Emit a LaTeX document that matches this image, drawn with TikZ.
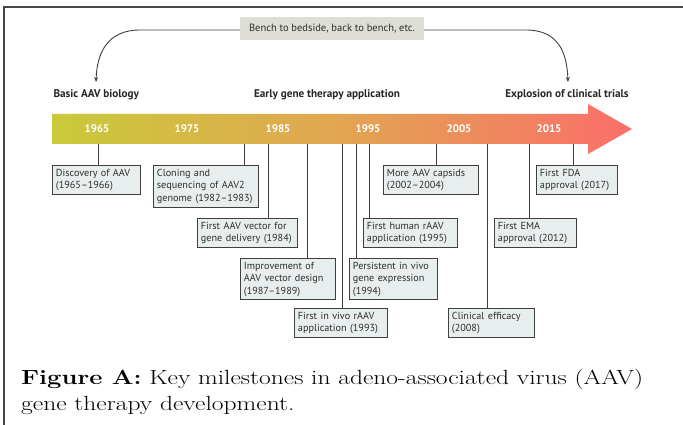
\documentclass[tikz,border=0pt]{standalone}
\usepackage{fontspec}
\usepackage{graphicx}
\setsansfont{PT Sans}
\usetikzlibrary{arrows.meta}

\definecolor{framegray}{HTML}{474747}
\definecolor{linegray}{HTML}{3F3F3F}
\definecolor{boxfill}{HTML}{E8EEEE}
\definecolor{benchfill}{HTML}{DEDED6}
\definecolor{txtgray}{HTML}{2E2E2E}
\definecolor{barstart}{HTML}{C9CA3A}
\definecolor{barmid}{HTML}{E2A552}
\definecolor{barend}{HTML}{FA6E6A}

\tikzset{
  msbox/.style={draw=linegray, fill=boxfill, line width=0.9pt, anchor=north west,
    align=left, inner xsep=3.5pt, inner ysep=3.5pt, text=txtgray,
    font=\sffamily\fontsize{10.2}{12.5}\selectfont},
  stem/.style={draw=linegray, line width=0.9pt},
  yearlbl/.style={text=white, font=\sffamily\bfseries\fontsize{11}{12}\selectfont},
  phase/.style={text=black!85, font=\sffamily\bfseries\fontsize{11.2}{12}\selectfont},
  loop/.style={draw=linegray, line width=0.9pt, -{Stealth[length=5pt,width=4pt]}},
  captext/.style={anchor=base west, inner sep=0pt, text=black,
    font=\fontsize{20.5}{27}\selectfont}
}

\begin{document}
\begin{tikzpicture}[x=1pt,y=-1pt]
\useasboundingbox (0,0) rectangle (683,425);
\fill[white] (0,0) rectangle (683,425);

% outer frame (top and left edges)
\draw[framegray, line width=2pt] (683,7) -- (3.5,7) -- (3.5,425);

% bench-to-bedside loop
\node[fill=benchfill, inner sep=0pt, minimum width=184pt, minimum height=23pt,
      text=txtgray, font=\sffamily\fontsize{10.5}{11}\selectfont]
      (bench) at (332,28.5) {Bench to bedside, back to bench, etc.};
\coordinate (leftend) at (96,82);
\coordinate (rightend) at (568,82);
\draw[loop] (bench.west |- 0,30) -- (140,30) .. controls (108,30) and (97,52) .. (leftend);
\draw[loop] (bench.east |- 0,30) -- (526,30) .. controls (558,30) and (567,52) .. (rightend);

% phase headings
\node[phase, anchor=west] (ph1) at (50,95) {Basic AAV biology};
\node[phase] (ph2) at (327,95) {Early gene therapy application};
\node[phase] (ph3) at (567,95) {Explosion of clinical trials};

% timeline arrow
\shade[left color=barstart, right color=barend, middle color=barmid]
  (52,114) -- (588,114) -- (588,104) -- (632,129) -- (588,154) -- (588,144) -- (52,144) -- cycle;

\foreach \yr/\xx in {1965/97,1975/187,1985/278,1995/368,2005/459,2015/549}
  \node[yearlbl] (y\yr) at (\xx,129) {\yr};

% milestone boxes (non-breaking spaces keep each printed line whole)
\node[msbox, text width=81pt] (b1) at (52,165) {Discovery~of~AAV\\(1965--1966)};
\node[msbox, text width=98pt] (b2) at (153,165) {Cloning and\\sequencing~of~AAV2\\genome~(1982--1983)};
\node[msbox, text width=93pt] (b3) at (197,218) {First~AAV~vector~for\\gene~delivery~(1984)};
\node[msbox, text width=88pt] (b4) at (240,258) {Improvement of\\AAV~vector~design\\(1987--1989)};
\node[msbox, text width=86pt] (b5) at (294,308) {First~in~vivo~rAAV\\application~(1993)};
\node[msbox, text width=81pt] (b6) at (349,258) {Persistent~in~vivo\\gene~expression\\(1994)};
\node[msbox, text width=87pt] (b7) at (363,218) {First~human~rAAV\\application~(1995)};
\node[msbox, text width=88pt] (b8) at (383,165) {More~AAV~capsids\\(2002--2004)};
\node[msbox, text width=79pt] (b9) at (448,308) {Clinical~efficacy\\(2008)};
\node[msbox, text width=75pt] (b10) at (494,218) {First EMA\\approval~(2012)};
\node[msbox, text width=74pt] (b11) at (536,165) {First FDA\\approval~(2017)};

% stems from the timeline to each box
\foreach \k/\xx in {1/98,2/244,3/268,4/307,5/342,6/356,7/369,8/436,9/487,10/529,11/573}{
  \coordinate (t\k) at (\xx,144);
  \draw[stem] (t\k) -- (t\k |- b\k.north);
}

% caption, two lines
\node[captext] (cap1) at (21,384)
  {\scalebox{1.245}[1]{\textbf{Figure A:} Key milestones in adeno-associated virus (AAV)}};
\node[captext] (cap2) at (21,410)
  {\scalebox{1.245}[1]{gene therapy development.}};
\end{tikzpicture}
\end{document}
